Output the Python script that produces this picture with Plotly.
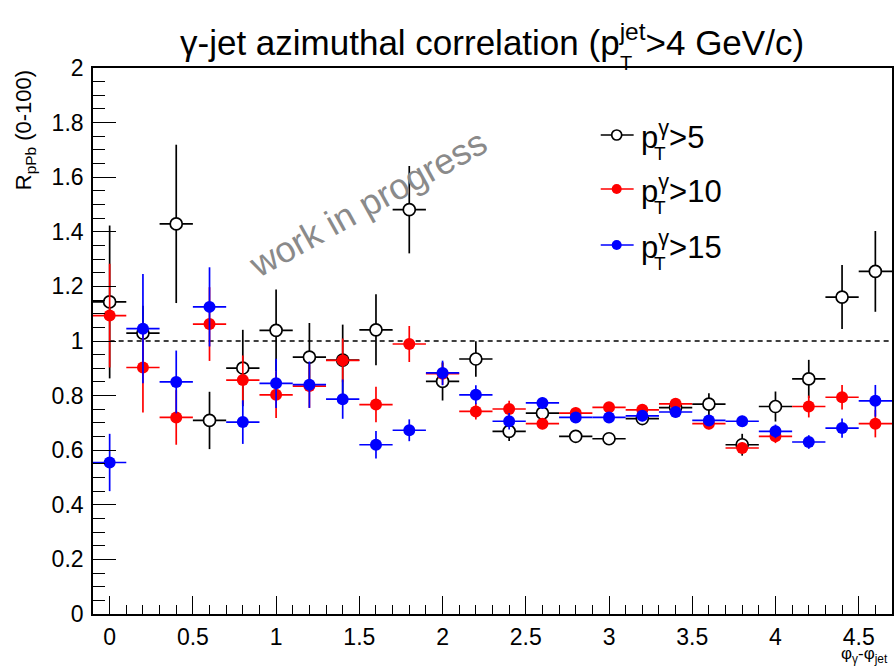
import plotly.graph_objects as go

# ---------------- data ----------------
dphi = [0.0, 0.2, 0.4, 0.6, 0.8, 1.0, 1.2, 1.4, 1.6, 1.8, 2.0, 2.2,
        2.4, 2.6, 2.8, 3.0, 3.2, 3.4, 3.6, 3.8, 4.0, 4.2, 4.4, 4.6]
dphi_halfwidth = [0.1] * len(dphi)

r_pt5 = [1.143, 1.029, 1.429, 0.709, 0.901, 1.039, 0.941, 0.930, 1.041, 1.481, 0.852, 0.934,
         0.669, 0.736, 0.651, 0.642, 0.716, 0.756, 0.769, 0.620, 0.760, 0.861, 1.161, 1.255]
e_pt5 = [0.28, 0.10, 0.29, 0.105, 0.14, 0.15, 0.125, 0.13, 0.13, 0.16, 0.07, 0.065,
         0.035, 0.025, 0.02, 0.02, 0.02, 0.025, 0.04, 0.04, 0.055, 0.07, 0.117, 0.148]

r_pt10 = [1.093, 0.903, 0.720, 1.062, 0.857, 0.803, 0.835, 0.929, 0.767, 0.989, 0.880, 0.742,
          0.751, 0.697, 0.736, 0.757, 0.748, 0.770, 0.697, 0.608, 0.651, 0.760, 0.794, 0.697]
e_pt10 = [0.19, 0.165, 0.10, 0.135, 0.09, 0.085, 0.08, 0.08, 0.065, 0.066, 0.04, 0.03,
          0.03, 0.02, 0.02, 0.02, 0.02, 0.02, 0.02, 0.02, 0.025, 0.04, 0.045, 0.05]

r_pt15 = [0.555, 1.045, 0.850, 1.125, 0.703, 0.845, 0.840, 0.787, 0.620, 0.673, 0.883, 0.803,
          0.706, 0.773, 0.720, 0.720, 0.726, 0.740, 0.709, 0.706, 0.669, 0.630, 0.681, 0.781]
e_pt15 = [0.105, 0.20, 0.115, 0.145, 0.08, 0.09, 0.085, 0.072, 0.05, 0.04, 0.045, 0.035,
          0.03, 0.02, 0.02, 0.02, 0.02, 0.02, 0.02, 0.02, 0.025, 0.025, 0.035, 0.058]

x_range = [-0.1, 4.7]
y_range = [0.0, 2.0]
ref_level = 1.0

legend_labels = [">5", ">10", ">15"]

# ---------------- figure ----------------
W, H = 895, 668
ML, MR, MT, MB = 93, 1, 68, 54
PW, PH = W - ML - MR, H - MT - MB
FONT = "Liberation Sans, Arial, Helvetica, sans-serif"


def px_x(p):
    return (p - ML) / PW


def px_y(p):
    return (H - MB - p) / PH


fig = go.Figure()

series = [
    (r_pt5, e_pt5, "black", dict(symbol="circle", size=12, color="white",
                                 line=dict(color="black", width=1.7))),
    (r_pt10, e_pt10, "#ff0000", dict(symbol="circle", size=12, color="#ff0000",
                                     line=dict(width=0))),
    (r_pt15, e_pt15, "#0000ff", dict(symbol="circle", size=12, color="#0000ff",
                                     line=dict(width=0))),
]

# dashed reference line
fig.add_shape(type="line", xref="x", yref="y", x0=0, x1=x_range[1], y0=ref_level, y1=ref_level,
              line=dict(color="black", width=1.3, dash="5px,4px"), layer="below")

for yv, ev, col, mk in series:
    fig.add_trace(go.Scatter(
        x=dphi, y=yv, mode="markers", marker=mk,
        error_y=dict(type="data", array=ev, visible=True, color=col, thickness=1.7, width=0),
        error_x=dict(type="data", array=dphi_halfwidth, visible=True, color=col, thickness=1.7, width=0),
        showlegend=False, cliponaxis=True, xaxis="x", yaxis="y"))

# legend symbols on an overlay axis (fractions of plot area)
leg_y_px = [135, 189, 245]
leg_cols = ["black", "#ff0000", "#0000ff"]
for i, (yy, col) in enumerate(zip(leg_y_px, leg_cols)):
    fy = px_y(yy)
    fig.add_trace(go.Scatter(x=[px_x(602), px_x(635)], y=[fy, fy], mode="lines",
                             line=dict(color=col, width=1.7), showlegend=False,
                             xaxis="x2", yaxis="y2", hoverinfo="skip"))
    mk = dict(series[i][3])
    mk["size"] = 10
    fig.add_trace(go.Scatter(x=[px_x(618)], y=[fy], mode="markers", marker=mk,
                             showlegend=False, xaxis="x2", yaxis="y2", hoverinfo="skip"))
    fig.add_annotation(xref="paper", yref="paper", x=px_x(640), y=fy, xanchor="left", yanchor="middle",
                       text="p<sup>γ</sup>" + legend_labels[i], showarrow=False,
                       font=dict(family=FONT, size=31, color="black"))
    fig.add_annotation(xref="paper", yref="paper", x=px_x(661), y=px_y(yy + 18), xanchor="center",
                       yanchor="middle", text="T", showarrow=False,
                       font=dict(family=FONT, size=19, color="black"))

# title
fig.add_annotation(xref="paper", yref="paper", x=px_x(493), y=px_y(40), xanchor="center", yanchor="middle",
                   text="γ-jet azimuthal correlation (p<sup>jet</sup>>4 GeV/c)", showarrow=False,
                   font=dict(family=FONT, size=35, color="black"))
fig.add_annotation(xref="paper", yref="paper", x=px_x(627), y=px_y(63), xanchor="center", yanchor="middle",
                   text="T", showarrow=False, font=dict(family=FONT, size=20, color="black"))

# watermark
fig.add_annotation(xref="paper", yref="paper", x=px_x(368), y=px_y(203), xanchor="center", yanchor="middle",
                   text="work in progress", showarrow=False, textangle=-29,
                   font=dict(family=FONT, size=36, color="#8a8a8a"))

# axis titles
fig.add_annotation(xref="paper", yref="paper", x=px_x(25), y=1.0, xanchor="center", yanchor="top",
                   text="R<sub>pPb</sub> (0-100)", showarrow=False, textangle=-90,
                   font=dict(family=FONT, size=22, color="black"))
fig.add_annotation(xref="paper", yref="paper", x=px_x(892), y=px_y(668), xanchor="right", yanchor="bottom",
                   text="φ<sub>γ</sub>-φ<sub>jet</sub>", showarrow=False,
                   font=dict(family=FONT, size=17, color="black"))

fig.update_layout(
    width=W, height=H, margin=dict(l=ML, r=MR, t=MT, b=MB, pad=0),
    paper_bgcolor="white", plot_bgcolor="white",
    font=dict(family=FONT, color="black"),
    xaxis=dict(range=x_range, showgrid=False, zeroline=False, showline=True, linecolor="black",
               linewidth=1.6, mirror=True, ticks="inside", ticklen=18, tickwidth=1.2, tickcolor="black",
               dtick=0.5, tick0=0, tickfont=dict(family=FONT, size=23, color="black"),
               ticklabelstandoff=2,
               minor=dict(ticks="inside", ticklen=9, dtick=0.1, tick0=0, tickwidth=1.2, tickcolor="black",
                          showgrid=False),
               domain=[0, 1], anchor="y", fixedrange=True),
    yaxis=dict(range=y_range, showgrid=False, zeroline=False, showline=True, linecolor="black",
               linewidth=1.6, mirror=True, ticks="inside", ticklen=23, tickwidth=1.2, tickcolor="black",
               dtick=0.2, tick0=0, tickfont=dict(family=FONT, size=23, color="black"),
               ticklabelstandoff=3,
               minor=dict(ticks="inside", ticklen=12, dtick=0.05, tick0=0, tickwidth=1.2, tickcolor="black",
                          showgrid=False),
               domain=[0, 1], anchor="x", fixedrange=True),
    xaxis2=dict(range=[0, 1], visible=False, domain=[0, 1], anchor="y2", overlaying="x", fixedrange=True),
    yaxis2=dict(range=[0, 1], visible=False, domain=[0, 1], anchor="x2", overlaying="y", fixedrange=True),
)

fig.write_html("out.html")
